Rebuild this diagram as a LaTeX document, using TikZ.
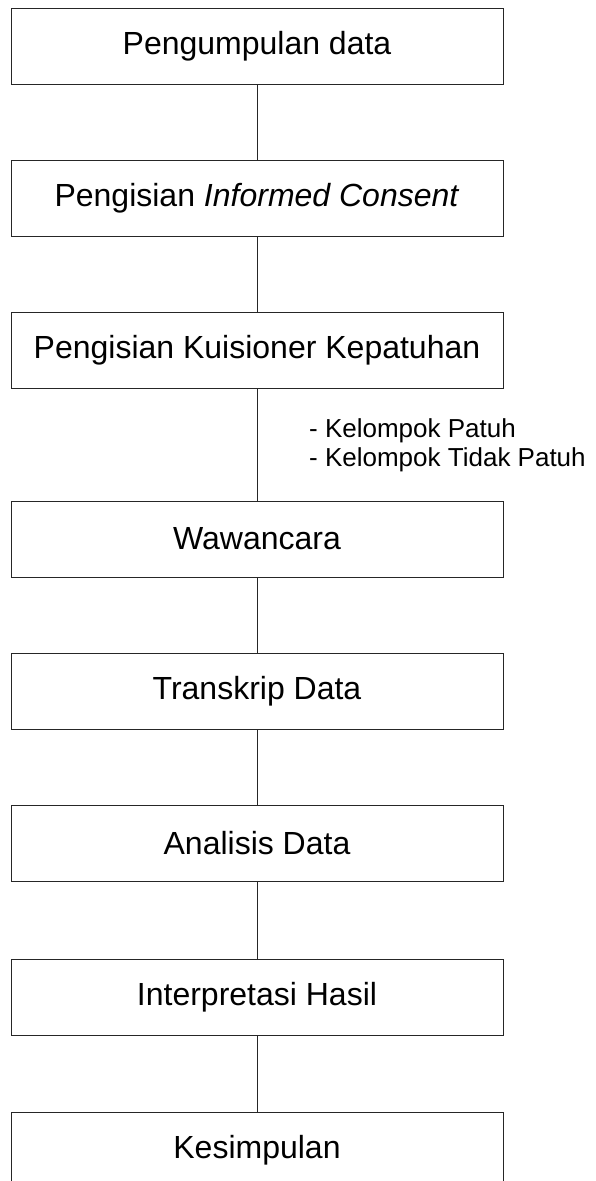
\documentclass[tikz,border=0pt]{standalone}
\usepackage{fontspec}
\setmainfont{Liberation Sans}

\begin{document}
\begin{tikzpicture}[x=1pt,y=-1pt,
		kotak/.style={draw=black!85,line width=1pt,minimum width=492pt,minimum height=76pt,inner sep=0pt,font=\fontsize{32}{38}\selectfont},
		garis/.style={draw=black!85,line width=1pt}]
			\useasboundingbox (0,0) rectangle (595,1181);
			\node[kotak] (kumpul) at (257,46) {Pengumpulan data};
			\node[kotak] (consent) at (257,198) {Pengisian \textit{Informed Consent}};
			\node[kotak] (kuisioner) at (257,350.5) {Pengisian Kuisioner Kepatuhan};
			\node[kotak] (wawancara) at (257,539) {Wawancara};
			\node[kotak] (transkrip) at (257,691) {Transkrip Data};
			\node[kotak] (analisis) at (257,843) {Analisis Data};
			\node[kotak] (interpretasi) at (257,997) {Interpretasi Hasil};
			\node[kotak] (simpulan) at (257,1150) {Kesimpulan};
			\foreach \a/\b in {kumpul/consent, consent/kuisioner, kuisioner/wawancara, wawancara/transkrip,
				transkrip/analisis, analisis/interpretasi, interpretasi/simpulan}
			\draw[garis] (\a) -- (\b);
			\node[anchor=west,align=left,inner sep=0pt,font=\fontsize{26}{29}\selectfont] (kelompok) at (309,445)
				{- Kelompok Patuh\\- Kelompok Tidak Patuh};
		\end{tikzpicture}
\end{document}
